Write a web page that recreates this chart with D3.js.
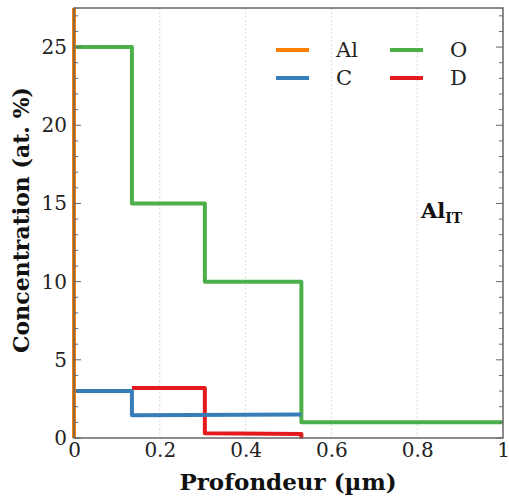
<!DOCTYPE html>
<html><head><meta charset="utf-8">
<script src="https://cdn.jsdelivr.net/npm/d3@7"></script>
<style>body{margin:0;background:#fff}svg{display:block}</style>
</head><body><div id="chart"></div>
<script>
// Data (depth in µm, concentration in at. %)
const seriesNames = ["Al", "C", "O", "D"];
const colors = ["#ff7f00", "#377eb8", "#4daf4a", "#e41a1c"];
const alX = [0, 0];
const alY = [0, 100];
const cX = [0, 0.135, 0.135, 0.53];
const cY = [3, 3, 1.45, 1.5];
const oX = [0, 0.135, 0.135, 0.305, 0.305, 0.53, 0.53, 1];
const oY = [25, 25, 15, 15, 10, 10, 1, 1];
const dX = [0.135, 0.305, 0.305, 0.53, 0.53];
const dY = [3.2, 3.2, 0.3, 0.25, -1];
const xTicks = [0, 0.2, 0.4, 0.6, 0.8, 1];
const xTickLabels = ["0", "0.2", "0.4", "0.6", "0.8", "1"];
const yTicks = [0, 5, 10, 15, 20, 25];
const sampleLabel = "Al";
const sampleSub = "IT";

const W = 509, H = 497;
const m = {left: 74, right: 6, top: 8, bottom: 59};
const x = d3.scaleLinear().domain([0, 1]).range([m.left, W - m.right]);
const y = d3.scaleLinear().domain([0, 27.5]).range([H - m.bottom, m.top]);

const svg = d3.select("#chart").append("svg").attr("width", W).attr("height", H);
const serif = "'DejaVu Serif', serif";

// grid (vertical dotted)
svg.append("g").selectAll("line").data(xTicks.slice(1, -1)).join("line")
  .attr("x1", d => x(d)).attr("x2", d => x(d))
  .attr("y1", y(0)).attr("y2", y(27.5))
  .attr("stroke", "#ccc").attr("stroke-width", 1).attr("stroke-dasharray", "1.5,2.5");

svg.append("defs").append("clipPath").attr("id", "clip")
  .append("rect").attr("x", m.left - 3).attr("y", m.top)
  .attr("width", W - m.left - m.right + 3).attr("height", y(0) - m.top + 0.5);

const line = d3.line().x(d => x(d[0])).y(d => y(d[1]));
const data = [
  [alX, alY], [cX, cY], [oX, oY], [dX, dY]
];
const order = [2, 3, 1, 0];
const gLines = svg.append("g").attr("clip-path", "url(#clip)");
order.forEach(i => {
  const pts = data[i][0].map((v, k) => [v, data[i][1][k]]);
  gLines.append("path").attr("d", line(pts)).attr("fill", "none")
    .attr("stroke", colors[i]).attr("stroke-width", 4)
    .attr("stroke-linejoin", "round").attr("stroke-linecap", "butt");
});

// frame
svg.append("rect").attr("x", x(0)).attr("y", y(27.5))
  .attr("width", x(1) - x(0)).attr("height", y(0) - y(27.5))
  .attr("fill", "none").attr("stroke", "#666").attr("stroke-width", 1.5);

// y axis (ticks inside, left and right)
const yMinor = d3.range(0, 28, 1);
const yAxisL = d3.axisLeft(y).tickValues(yTicks).tickSize(0).tickPadding(7);
const gy = svg.append("g").attr("transform", `translate(${x(0)},0)`).call(yAxisL);
gy.select(".domain").remove();
gy.selectAll("text").attr("font-family", serif).attr("font-size", 20).attr("fill", "#222");
[x(0), x(1)].forEach((px, side) => {
  const dir = side === 0 ? 1 : -1;
  svg.append("g").selectAll("line").data(yMinor).join("line")
    .attr("x1", px).attr("x2", d => px + dir * (d % 5 === 0 ? 7 : 4))
    .attr("y1", d => y(d)).attr("y2", d => y(d))
    .attr("stroke", "#666").attr("stroke-width", 1);
});

// x axis
const xAxis = d3.axisBottom(x).tickValues(xTicks).tickFormat((d, i) => xTickLabels[i]).tickSize(0).tickPadding(5);
const gx = svg.append("g").attr("transform", `translate(0,${y(0)})`).call(xAxis);
gx.select(".domain").remove();
gx.selectAll("text").attr("font-family", serif).attr("font-size", 20).attr("fill", "#222");

// axis labels
svg.append("text").attr("x", 288).attr("y", 490).attr("text-anchor", "middle")
  .attr("font-family", serif).attr("font-weight", "bold").attr("font-size", 23).attr("fill", "#111")
  .text("Profondeur (µm)");
svg.append("text").attr("transform", `translate(29,${220}) rotate(-90)`).attr("text-anchor", "middle")
  .attr("font-family", serif).attr("font-weight", "bold").attr("font-size", 22).attr("fill", "#111")
  .text("Concentration (at. %)");

// legend
const legPos = [[276, 50], [276, 78], [390, 50], [390, 78]];
seriesNames.forEach((n, i) => {
  const [lx, ly] = legPos[i];
  svg.append("line").attr("x1", lx).attr("x2", lx + 33).attr("y1", ly).attr("y2", ly)
    .attr("stroke", colors[i]).attr("stroke-width", 4);
  svg.append("text").attr("x", lx + 60).attr("y", ly + 7)
    .attr("font-family", serif).attr("font-size", 21).attr("fill", "#222").text(n);
});

// sample label
const st = svg.append("text").attr("x", 421).attr("y", 218)
  .attr("font-family", serif).attr("font-weight", "bold").attr("font-size", 21).attr("fill", "#111");
st.append("tspan").text(sampleLabel);
st.append("tspan").attr("font-size", 14).attr("dy", 5).text(sampleSub);
</script></body></html>
